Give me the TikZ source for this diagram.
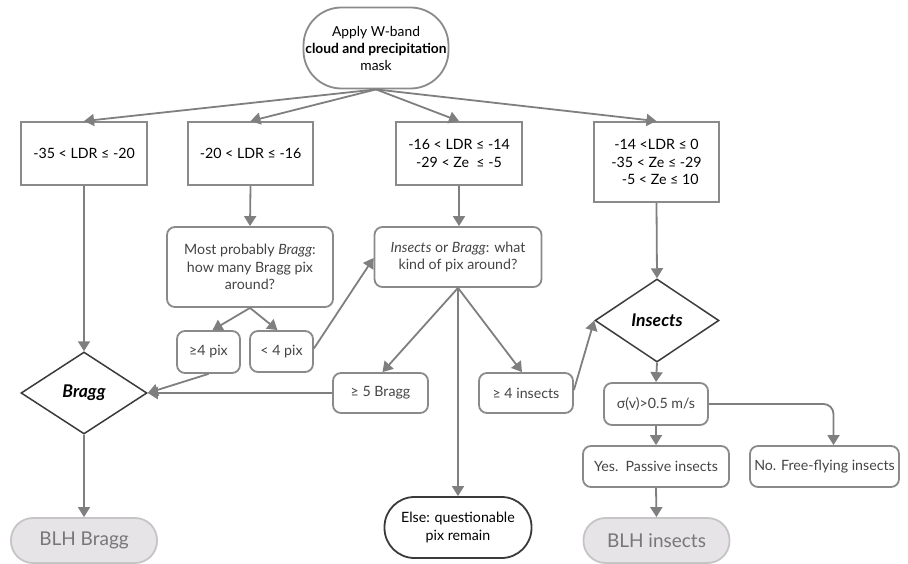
\documentclass[tikz,border=0pt]{standalone}
\usepackage{fontspec}
\setmainfont{Lato}
\usetikzlibrary{arrows.meta,shapes.geometric,calc}
\definecolor{ln}{HTML}{7F7F7F}
\definecolor{bd}{HTML}{8A8A8A}
\definecolor{dk}{HTML}{3A3A3A}
\definecolor{tx}{HTML}{444444}
\definecolor{blhfill}{HTML}{E7E4E7}
\definecolor{blhbd}{HTML}{C6C4C6}
\definecolor{blhtx}{HTML}{777777}
\begin{document}
\begin{tikzpicture}[x=1pt,y=-1pt,
  font=\fontsize{14.2}{17.5}\selectfont,
  arr/.style={draw=ln, line width=1.8pt, -{Triangle[length=10pt,width=12pt]}},
  sqbox/.style={draw=bd, line width=1.8pt, rectangle, align=center, inner sep=2pt, text=black},
  rbox/.style={draw=bd, line width=1.8pt, rectangle, rounded corners=8pt, align=center, inner sep=2pt, text=tx},
  dia/.style={draw=dk, line width=1.5pt, diamond, aspect=1.5, inner sep=0pt, font=\fontsize{17.5}{20}\selectfont\bfseries\itshape},
  blh/.style={draw=blhbd, fill=blhfill, line width=1.8pt, rectangle, rounded corners=22pt, minimum width=146pt, minimum height=45pt, text=blhtx, font=\fontsize{19}{23}\selectfont}
]
\useasboundingbox (0,0) rectangle (908,564);

\node[draw=bd, line width=1.8pt, rectangle, rounded corners=38pt, minimum width=145pt, minimum height=81pt, align=center, inner sep=0pt, font=\fontsize{13.8}{17}\selectfont] (top) at (376,48)
  {Apply W-band\\\textbf{cloud and precipitation}\\mask};

\node[sqbox, minimum width=126pt, minimum height=63pt] (b1) at (84,153.5) {-35 < LDR ≤ -20};
\node[sqbox, minimum width=125pt, minimum height=63pt] (b2) at (250.5,153.5) {-20 < LDR ≤ -16};
\node[sqbox, minimum width=126pt, minimum height=63pt] (b3) at (459,153.5) {-16 < LDR ≤ -14\\-29 < Ze\ \ ≤ -5};
\node[sqbox, minimum width=125pt, minimum height=80pt] (b4) at (656.5,162) {-14 <LDR ≤ 0\\-35 < Ze ≤ -29\\\ \ -5 < Ze ≤ 10};

\node[rbox, minimum width=166pt, minimum height=80pt] (mpb) at (250,267) {Most probably \textit{Bragg}:\\how many Bragg pix\\around?};
\node[rbox, minimum width=167pt, minimum height=60pt] (iob) at (458,257) {\textit{Insects} or \textit{Bragg}: what\\kind of pix around?};

\node[rbox, minimum width=63pt, minimum height=42pt] (p4) at (208.5,352) {≥4 pix};
\node[rbox, minimum width=63pt, minimum height=41pt] (l4) at (281.5,351.5) {< 4 pix};

\node[dia, minimum width=126pt, minimum height=82pt] (bragg) at (84,393) {Bragg};
\node[dia, minimum width=124pt, minimum height=83pt] (ins) at (657,320.5) {Insects};

\node[rbox, minimum width=95pt, minimum height=40pt] (b5) at (380.5,393) {≥ 5 Bragg};
\node[rbox, minimum width=94pt, minimum height=40pt] (i4) at (526,393) {≥ 4 insects};

\node[rbox, minimum width=104pt, minimum height=42pt] (sig) at (656,404) {σ(v)>0.5 m/s};
\node[rbox, minimum width=146pt, minimum height=41pt] (yes) at (656,466.5) {Yes.\ \ Passive insects};
\node[rbox, minimum width=149pt, minimum height=41pt] (no) at (824.5,466.5) {No. Free-flying insects};

\node[draw=dk, line width=1.8pt, rectangle, rounded corners=30pt, minimum width=147pt, minimum height=61pt, align=center, inner sep=0pt] (else) at (458,527.5) {Else: questionable\\pix remain};

\node[blh] (blhb) at (84,540.5) {BLH Bragg};
\node[blh] (blhi) at (656.5,540.5) {BLH insects};

% connectors
\draw[arr] (top.south) -- (b1.north);
\draw[arr] (top.south) -- (b2.north);
\draw[arr] (top.south) -- (b3.north);
\draw[arr] (top.south) -- (b4.north);

\draw[arr] (b1.south) -- (bragg.north);
\draw[arr] (b2.south) -- (mpb.north);
\draw[arr] (b3.south) -- ($(iob.north)+(1,0)$);
\draw[arr] (b4.south) -- (ins.north);

\draw[arr] (mpb.south) -- ($(p4.north)+(4,0)$);
\draw[arr] (mpb.south) -- ($(l4.north)+(-4,0)$);
\draw[arr] ($(l4.east)+(0,-3)$) -- ($(iob.west)+(0,1)$);
\draw[arr] (p4.south) -- (bragg.east);
\draw[arr] (b5.west) -- (bragg.east);

\draw[arr] (iob.south) -- ($(b5.north)+(2,0)$);
\draw[arr] (iob.south) -- (else.north);
\draw[arr] (iob.south) -- ($(i4.north)+(-4,0)$);
\draw[arr] ($(i4.east)+(0,-3)$) -- (ins.west);

\draw[arr] (ins.south) -- (sig.north);
\draw[arr] (sig.south) -- (yes.north);
\draw[arr, rounded corners=10pt] (sig.east) -| ($(no.north)+(9,0)$);
\draw[arr] (yes.south) -- (blhi.north);
\draw[arr] (bragg.south) -- (blhb.north);
\end{tikzpicture}
\end{document}
